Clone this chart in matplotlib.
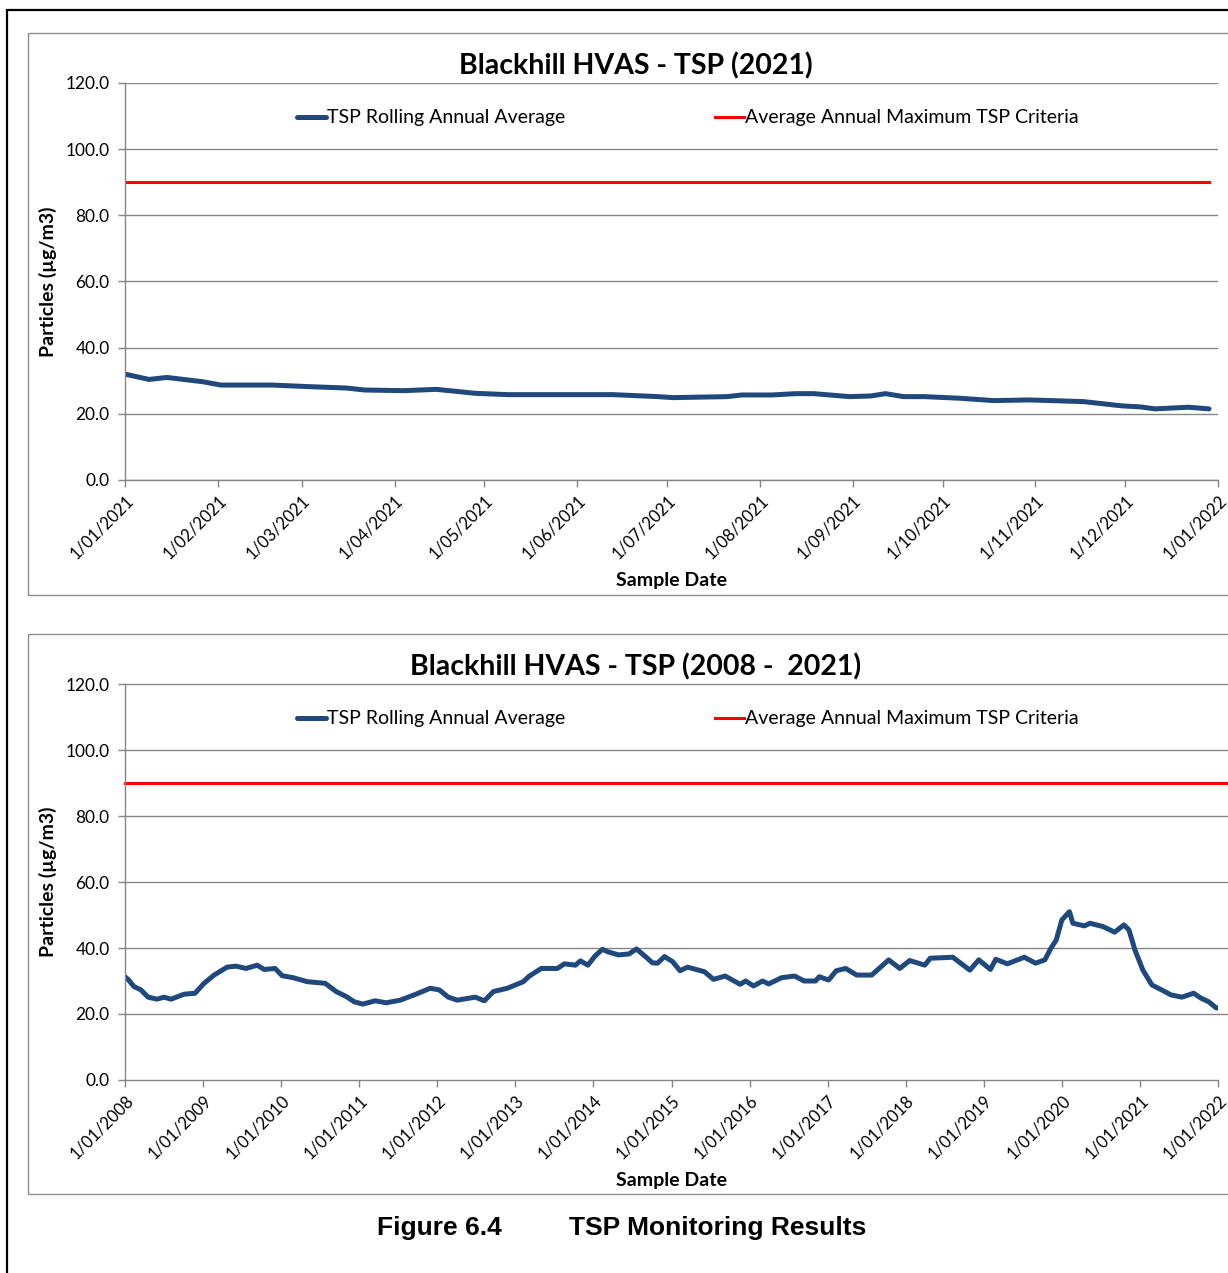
import matplotlib
matplotlib.use("Agg")
import matplotlib.pyplot as plt
import matplotlib.dates as mdates
import matplotlib.patches as patches
import pandas as pd

# --- Data: 2021 rolling annual average ---
dates_2021 = ['2021-01-01', '2021-01-09', '2021-01-15', '2021-01-27', '2021-02-02',
              '2021-02-19', '2021-03-04', '2021-03-16', '2021-03-22', '2021-04-04',
              '2021-04-15', '2021-04-28', '2021-05-09', '2021-06-13', '2021-06-28',
              '2021-07-03', '2021-07-21', '2021-07-26', '2021-08-05', '2021-08-13',
              '2021-08-19', '2021-08-31', '2021-09-07', '2021-09-12', '2021-09-18',
              '2021-09-25', '2021-10-07', '2021-10-18', '2021-10-30', '2021-11-17',
              '2021-11-30', '2021-12-06', '2021-12-11', '2021-12-22', '2021-12-29']
tsp_2021 = [32.0, 30.4, 31.0, 29.7, 28.7,
            28.7, 28.2, 27.8, 27.2, 27.0,
            27.4, 26.2, 25.8, 25.8, 25.2,
            24.9, 25.2, 25.7, 25.7, 26.1,
            26.1, 25.2, 25.4, 26.1, 25.2,
            25.2, 24.7, 24.0, 24.2, 23.7,
            22.4, 22.1, 21.5, 22.0, 21.5]

# --- Data: 2008-2021 rolling annual average (decimal years) ---
years_long = [2008.000, 2008.046, 2008.115, 2008.205, 2008.295, 2008.410, 2008.500, 2008.590,
              2008.756, 2008.897, 2009.013, 2009.141, 2009.308, 2009.423, 2009.551, 2009.692,
              2009.782, 2009.923, 2010.013, 2010.154, 2010.333, 2010.564, 2010.705, 2010.833,
              2010.936, 2011.045, 2011.205, 2011.346, 2011.526, 2011.705, 2011.910, 2012.026,
              2012.141, 2012.256, 2012.487, 2012.603, 2012.718, 2012.897, 2013.103, 2013.179,
              2013.333, 2013.538, 2013.628, 2013.769, 2013.833, 2013.929, 2014.021, 2014.115,
              2014.179, 2014.321, 2014.456, 2014.551, 2014.667, 2014.756, 2014.821, 2014.910,
              2015.013, 2015.109, 2015.205, 2015.423, 2015.538, 2015.687, 2015.879, 2015.949,
              2016.051, 2016.167, 2016.244, 2016.410, 2016.577, 2016.699, 2016.846, 2016.892,
              2017.013, 2017.109, 2017.231, 2017.372, 2017.564, 2017.782, 2017.923, 2018.051,
              2018.244, 2018.314, 2018.603, 2018.821, 2018.936, 2019.085, 2019.154, 2019.301,
              2019.519, 2019.663, 2019.782, 2019.859, 2019.928, 2020.000, 2020.097, 2020.141,
              2020.290, 2020.359, 2020.526, 2020.676, 2020.795, 2020.859, 2020.936, 2021.038,
              2021.154, 2021.278, 2021.397, 2021.538, 2021.687, 2021.782, 2021.881, 2021.974,
              2021.995]
tsp_long = [31.3, 30.3, 28.3, 27.3, 25.1, 24.5, 25.1, 24.5,
            26.0, 26.3, 29.3, 31.8, 34.2, 34.5, 33.8, 34.8,
            33.5, 33.8, 31.6, 31.0, 29.8, 29.3, 26.8, 25.3,
            23.7, 23.0, 24.0, 23.4, 24.2, 25.8, 27.8, 27.3,
            25.1, 24.2, 25.1, 24.0, 26.8, 27.8, 29.8, 31.5,
            33.8, 33.8, 35.2, 34.8, 36.1, 34.8, 37.6, 39.6,
            38.9, 37.9, 38.2, 39.7, 37.4, 35.5, 35.4, 37.4,
            35.9, 33.1, 34.2, 32.8, 30.5, 31.5, 29.0, 30.0,
            28.5, 30.0, 29.1, 31.0, 31.5, 30.0, 30.0, 31.3,
            30.3, 33.1, 33.8, 31.8, 31.8, 36.4, 33.8, 36.2,
            34.8, 36.9, 37.2, 33.3, 36.4, 33.5, 36.6, 35.2,
            37.2, 35.4, 36.4, 39.9, 42.4, 48.5, 51.0, 47.5,
            46.7, 47.5, 46.5, 44.8, 47.0, 45.5, 39.4, 33.3,
            28.8, 27.3, 25.8, 25.1, 26.3, 24.8, 23.7, 21.9,
            21.8]

criteria = 90.0
y_ticks = [0, 20, 40, 60, 80, 100, 120]
year_ticks = list(range(2008, 2023))

BLUE = '#1F497D'
RED = '#FF0000'
GREY = '#868686'
FONT = 'Lato'

W, H = 1228, 1273
fig = plt.figure(figsize=(W / 100, H / 100), dpi=100)
fig.patch.set_facecolor('white')


def px_box(left, top, right, bottom):
    return [left / W, 1 - bottom / H, (right - left) / W, (bottom - top) / H]


# outer page frame and chart frames
fig.add_artist(patches.Rectangle((7 / W, -0.1), 1.2, 1 - 10 / H + 0.1,
                                 transform=fig.transFigure, fill=False,
                                 edgecolor='black', lw=1.6))
for top, bottom in [(33, 595), (634, 1194)]:
    fig.add_artist(patches.Rectangle((28 / W, 1 - bottom / H), 1.2, (bottom - top) / H,
                                     transform=fig.transFigure, fill=False,
                                     edgecolor='#8C8C8C', lw=1.0))


def style_axes(ax, title, title_y):
    ax.set_ylim(0, 120)
    ax.set_yticks(y_ticks)
    ax.set_yticklabels([f'{v:.1f}' for v in y_ticks], fontsize=12.4, family=FONT)
    ax.yaxis.grid(True, color=GREY, lw=1.0)
    ax.set_axisbelow(True)
    for s in ['top', 'right']:
        ax.spines[s].set_visible(False)
    for s in ['left', 'bottom']:
        ax.spines[s].set_color(GREY)
        ax.spines[s].set_linewidth(1.0)
    ax.tick_params(axis='both', color=GREY, length=5, width=1.0, direction='out')
    ax.tick_params(axis='y', pad=6)
    ax.set_ylabel('Particles (µg/m3)', fontsize=14, fontweight='bold', family=FONT, labelpad=6)
    ax.set_xlabel('Sample Date', fontsize=14, fontweight='bold', family=FONT, labelpad=8)
    fig.text(0.5175, title_y, title, ha='center', va='center', fontsize=20.5,
             fontweight='bold', family=FONT)
    ax.legend(ncol=2, loc='center', bbox_to_anchor=(0.515, 0.912), frameon=False,
              handlelength=1.5, handletextpad=0.05, columnspacing=7.7,
              prop={'family': FONT, 'size': 14})
    for lab in ax.get_xticklabels():
        lab.set_rotation(45)
        lab.set_ha('right')
        lab.set_va('top')
        lab.set_rotation_mode('anchor')
        lab.set_fontsize(12)
        lab.set_family(FONT)


# --- Top chart: 2021 ---
ax1 = fig.add_axes(px_box(125, 83, 1218, 480))
d2021 = pd.to_datetime(dates_2021)
ax1.plot(d2021, tsp_2021, color=BLUE, lw=3.6, solid_capstyle='round',
         label='TSP Rolling Annual Average')
ax1.plot([pd.Timestamp('2021-01-01'), pd.Timestamp('2021-12-29')], [criteria, criteria],
         color=RED, lw=2.2, label='Average Annual Maximum TSP Criteria')
ax1.set_xlim(pd.Timestamp('2021-01-01'), pd.Timestamp('2022-01-01'))
ax1.xaxis.set_major_locator(mdates.MonthLocator(bymonthday=1))
ax1.xaxis.set_major_formatter(mdates.DateFormatter('1/%m/%Y'))
style_axes(ax1, 'Blackhill HVAS - TSP (2021)', 1 - 65.5 / H)

# --- Bottom chart: 2008 - 2021 ---
ax2 = fig.add_axes(px_box(125, 684, 1218, 1080))
ax2.plot(years_long, tsp_long, color=BLUE, lw=3.6, solid_capstyle='round',
         label='TSP Rolling Annual Average')
ax2.plot([2008, 2022.15], [criteria, criteria], color=RED, lw=2.2, clip_on=False,
         label='Average Annual Maximum TSP Criteria')
ax2.set_xlim(2008, 2022)
ax2.set_xticks(year_ticks)
ax2.set_xticklabels([f'1/01/{y}' for y in year_ticks])
style_axes(ax2, 'Blackhill HVAS - TSP (2008 -  2021)', 1 - 666.5 / H)
ax2.yaxis.grid(False)
for v in y_ticks[1:]:
    ax2.plot([2008, 2022.15], [v, v], color=GREY, lw=1.0, clip_on=False, zorder=0)

# caption
fig.text(377 / W, 1 - 1228 / H, 'Figure 6.4', ha='left', va='center', fontsize=19,
         fontweight='bold', family='Liberation Sans')
fig.text(569 / W, 1 - 1228 / H, 'TSP Monitoring Results', ha='left', va='center',
         fontsize=19, fontweight='bold', family='Liberation Sans')

fig.savefig('out.png', dpi=100)
